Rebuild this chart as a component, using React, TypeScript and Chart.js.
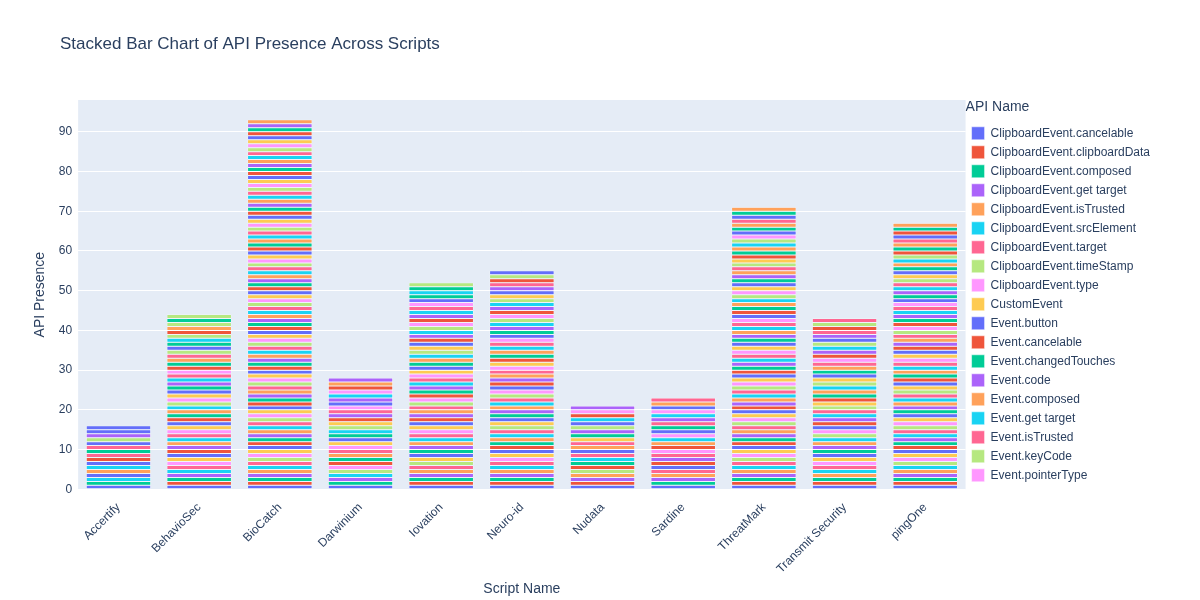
import React, { useEffect, useRef } from "react";
import { Chart, registerables } from "chart.js";
Chart.register(...registerables);

const scripts = ["Accertify","BehavioSec","BioCatch","Darwinium","Iovation","Neuro-id","Nudata","Sardine","ThreatMark","Transmit Security","pingOne"];

const apiNames = [
"ClipboardEvent.cancelable","ClipboardEvent.clipboardData","ClipboardEvent.composed","ClipboardEvent.get target","ClipboardEvent.isTrusted","ClipboardEvent.srcElement","ClipboardEvent.target","ClipboardEvent.timeStamp","ClipboardEvent.type","CustomEvent",
"Event.button","Event.cancelable","Event.changedTouches","Event.code","Event.composed","Event.get target","Event.isTrusted","Event.keyCode","Event.pointerType","Event.pressure",
"Event.screenX","Event.screenY","Event.clientX","Event.clientY","Event.pageX","Event.pageY","Event.offsetX","Event.offsetY","Event.movementX","Event.movementY",
"Event.key","Event.which","Event.altKey","Event.ctrlKey","Event.shiftKey","Event.metaKey","Event.repeat","Event.location","Event.touches","Event.targetTouches",
"Event.timeStamp","Event.type","Event.target","Event.srcElement","Event.currentTarget","Event.relatedTarget","Event.buttons","Event.detail","Event.deltaX","Event.deltaY",
"Event.deltaZ","Event.deltaMode","Event.tiltX","Event.tiltY","Event.width","Event.height","Event.isPrimary","Event.inputType","Event.data","Event.charCode",
"Event.bubbles","Event.defaultPrevented","Event.eventPhase","Event.returnValue","Event.x","Event.y","Event.layerX","Event.layerY","Event.rotationRate","Event.acceleration",
"Event.accelerationIncludingGravity","Event.interval","Event.alpha","Event.beta","Event.gamma","Event.absolute","Event.persisted","Event.view","Event.fromElement","Event.toElement",
"Event.pointerId","KeyboardEvent.getModifierState","MouseEvent.getModifierState","Touch.force","Touch.radiusX","Touch.radiusY","Touch.identifier","Touch.clientX","Touch.clientY","Touch.screenX",
"Touch.screenY","Touch.pageX","Touch.pageY","Touch.target","Touch.rotationAngle"
];

// presence of each API (in apiNames order) per script
const presence = [
"1010010000 1000110000 1100001000 0010001000 1000000100 0001000000 1000000000 1000000000 0000000000 00000",
"1111011011 1101111011 1110110111 1011011010 0110101100 1010010100 0100100100 0010000100 0000000000 00000",
"1111111111 1111111111 1111101111 1111111111 1111111111 1111111111 1110111111 1111111111 1111111111 11111",
"1011010110 0110101011 1010010101 0101001010 1001010010 0100100000 0001000000 0000000000 0000000000 00000",
"1111101101 1011111011 1101101110 0111011011 1010110101 1101010110 0101011010 1010010000 0010000100 00000",
"1111111011 1110111101 1011111110 1101101011 0110111010 1011010110 0101010101 1001001000 0100000100 10000",
"1101100100 0110011000 1000101001 0011000100 1000010000 0100000010 0001000000 0000000000 0000000000 00000",
"1011101000 1101001010 0100110010 1010001000 0001010010 1000100000 0000001000 0000000000 0000000000 00000",
"1111111111 1111101111 1101111111 1111011011 1011111010 1110110111 1011101101 0110110110 1010101000 10101",
"1110111011 1011110110 1101011101 0110110101 1010101010 0101010100 1001001000 0100000100 0000001000 00000",
"1111110111 1111011111 1011111101 1110111011 1101101110 0111011010 1011011101 1010110100 0110101000 11101",
];

const palette = ["#636efa","#EF553B","#00cc96","#ab63fa","#FFA15A","#19d3f3","#FF6692","#B6E880","#FF97FF","#FECB52"];
const legendCount = 19;
const FONT = '"Liberation Sans", Arial, sans-serif';
const TXT = "#2a3f5f";

export default function App() {
  const ref = useRef<HTMLCanvasElement>(null);
  useEffect(() => {
    document.body.style.margin = "0";
    const rows = presence.map((s) => s.replace(/ /g, ""));
    const datasets = apiNames.map((name, i) => ({
      label: name,
      data: rows.map((r) => (r[i] === "1" ? 1 : null)),
      backgroundColor: palette[i % palette.length],
      borderColor: "#ffffff",
      borderWidth: 0.5,
      borderSkipped: false as const,
      barPercentage: 0.8,
      categoryPercentage: 1,
    }));
    const bg = {
      id: "bg",
      beforeDraw(c: any) {
        const { ctx, chartArea: a } = c;
        ctx.save();
        ctx.fillStyle = "#E5ECF6";
        ctx.fillRect(a.left, a.top, a.right - a.left, a.bottom - a.top);
        ctx.fillStyle = TXT;
        ctx.font = `17px ${FONT}`;
        ctx.textBaseline = "middle";
        ctx.fillText("Stacked Bar Chart of API Presence Across Scripts", 60, 44);
        ctx.restore();
      },
    };
    const chart = new Chart(ref.current!, {
      type: "bar",
      data: { labels: scripts, datasets },
      plugins: [bg],
      options: {
        animation: false,
        responsive: false,
        layout: { padding: { top: 100, left: 28, right: 40, bottom: 2 } },
        plugins: {
          tooltip: { enabled: false },
          legend: {
            position: "right",
            align: "start",
            title: { display: true, text: "API Name", position: "start", color: TXT, font: { family: FONT, size: 14 }, padding: { top: 0, bottom: 4 } },
            labels: {
              filter: (item: any) => item.datasetIndex < legendCount,
              boxWidth: 13, boxHeight: 13, padding: 6, color: TXT,
              font: { family: FONT, size: 12 },
            },
          },
        },
        scales: {
          x: {
            stacked: true,
            grid: { display: false },
            border: { display: false },
            ticks: { color: TXT, font: { family: FONT, size: 12 }, minRotation: 45, maxRotation: 45 },
            title: { display: true, text: "Script Name", color: TXT, font: { family: FONT, size: 14 }, padding: { top: 2, bottom: 0 } },
          },
          y: {
            stacked: true,
            min: 0, max: 98,
            border: { display: false },
            grid: { color: (c: any) => (c.tick && c.tick.value % 10 === 0 ? "#ffffff" : "rgba(0,0,0,0)"), lineWidth: 1, drawTicks: false },
            ticks: { stepSize: 10, padding: 6, color: TXT, font: { family: FONT, size: 12 }, callback: (v: any) => (v % 10 === 0 ? v : "") },
            title: { display: true, text: "API Presence", color: TXT, font: { family: FONT, size: 14 } },
          },
        },
      },
    });
    return () => chart.destroy();
  }, []);
  return <canvas ref={ref} width={1200} height={600} style={{ display: "block" }} />;
}
